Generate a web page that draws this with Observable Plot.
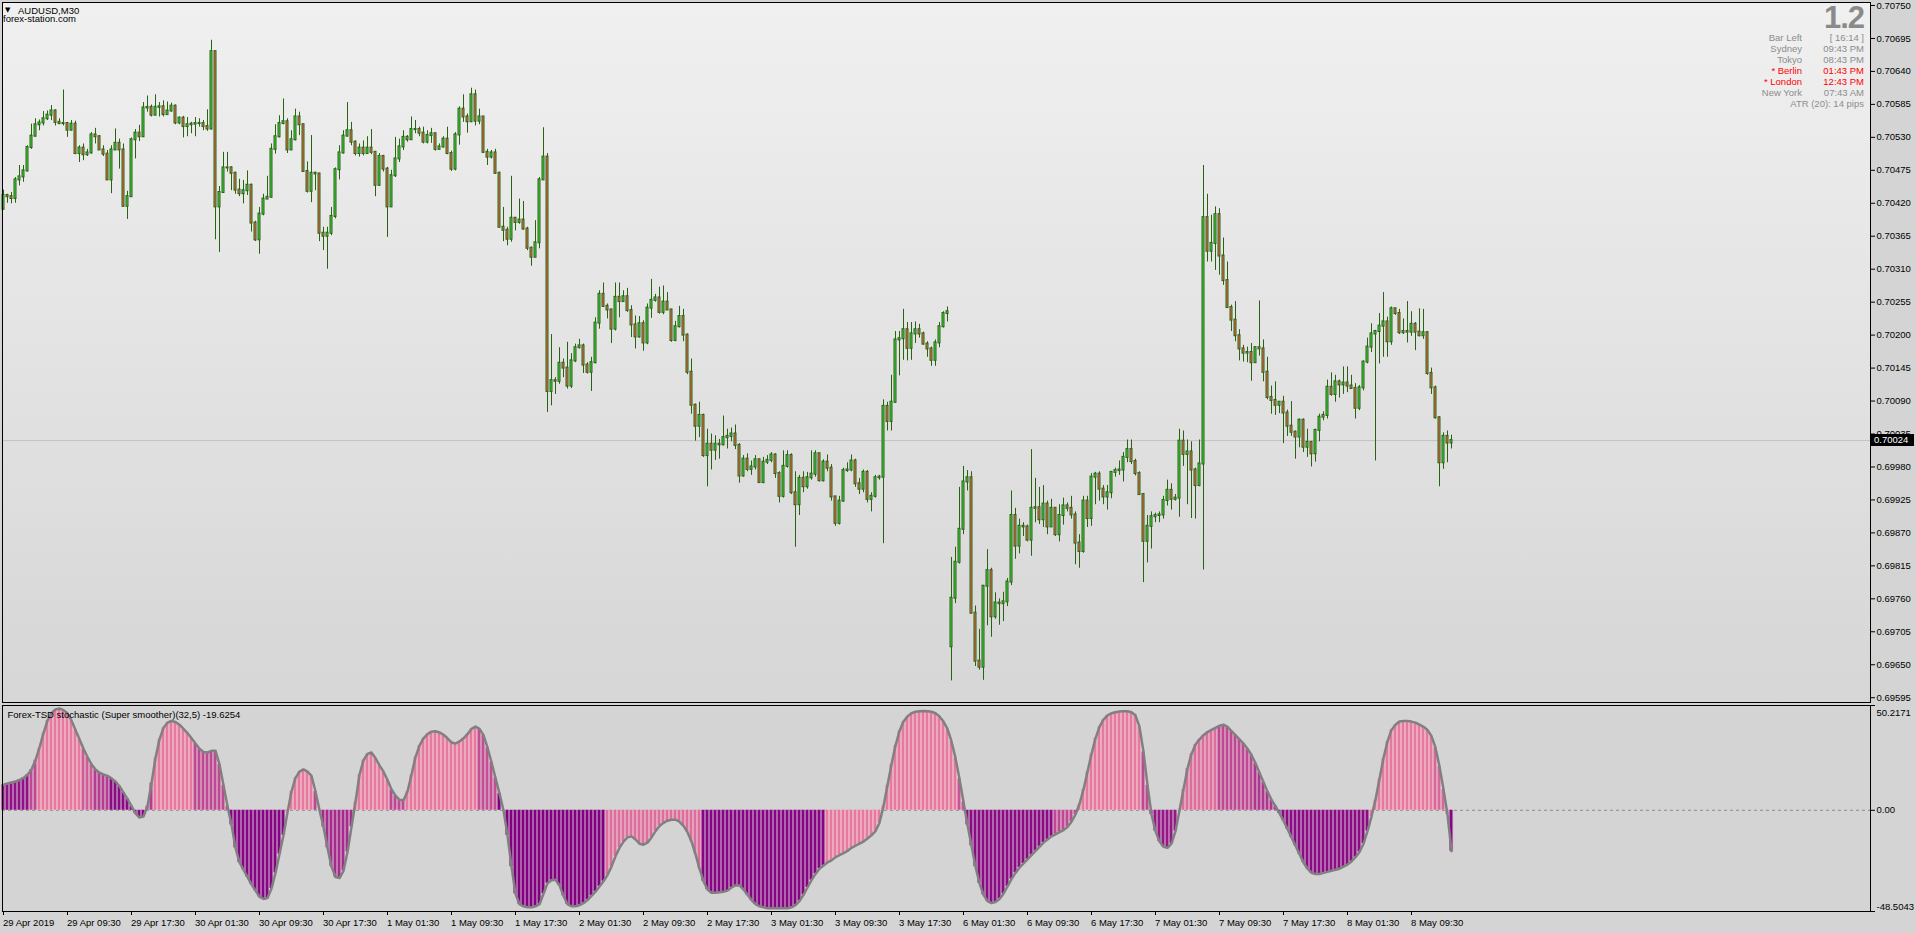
<!DOCTYPE html>
<html><head><meta charset="utf-8">
<script src="https://cdn.jsdelivr.net/npm/d3@7"></script>
<script src="https://cdn.jsdelivr.net/npm/@observablehq/plot@0.6"></script>
<style>
html,body{margin:0;padding:0;background:#d4d4d4;overflow:hidden}
#wrap{position:relative;width:1916px;height:933px;font-family:"Liberation Sans",Arial,sans-serif;font-size:9.5px;color:#000}
#bg{position:absolute;left:3px;top:3px;width:1867px;height:699px;background:linear-gradient(#f0f0f0,#d6d6d6)}
.abs{position:absolute;white-space:pre;line-height:12px}
svg{position:absolute;left:0}
</style></head><body><div id="wrap"><div id="bg"></div></div>
<script>
// ---- price data (in points, 1 point = 0.00001) ----
const gapOpenIdx = [0, 237];
const gapOpenVal = [70410, 69680];
const closes = [70433,70431,70428,70459,70464,70474,70513,70532,70551,70554,70561,70567,70574,70555,70553,70553,70542,70552,70503,70512,
70501,70504,70534,70531,70509,70502,70459,70509,70520,70509,70415,70431,70526,70537,70531,70579,70580,70567,70580,70581,
70568,70574,70582,70554,70562,70548,70551,70552,70553,70553,70548,70544,70673,70414,70438,70479,70479,70470,70442,70436,
70441,70450,70387,70359,70402,70427,70430,70510,70531,70553,70556,70509,70526,70564,70551,70473,70440,70470,70469,70370,
70365,70370,70398,70476,70504,70532,70541,70522,70503,70512,70503,70512,70505,70450,70498,70477,70414,70466,70494,70514,
70530,70526,70543,70543,70537,70522,70533,70536,70510,70514,70527,70503,70477,70534,70577,70564,70556,70601,70557,70564,
70505,70497,70504,70470,70380,70375,70360,70395,70388,70392,70377,70345,70330,70354,70459,70497,70106,70124,70123,70153,
70145,70115,70157,70179,70182,70150,70138,70154,70220,70268,70248,70242,70210,70263,70256,70264,70241,70217,70197,70219,
70187,70245,70258,70262,70238,70255,70242,70191,70214,70231,70200,70138,70083,70048,70066,69999,70018,70008,70018,70017,
70029,70031,70035,70016,69965,69993,69976,69980,69992,69954,69988,69991,70000,69969,69931,69981,69999,69937,69917,69961,
69947,69962,69968,70002,69957,69988,69978,69930,69886,69923,69974,69975,69990,69952,69943,69971,69926,69931,69962,69963,
70081,70056,70088,70192,70194,70209,70178,70202,70209,70202,70185,70177,70158,70187,70214,70236,70239,69761,69821,69876,
69955,69962,69736,69656,69646,69781,69807,69730,69753,69752,69755,69788,69899,69848,69881,69880,69858,69911,69912,69892,
69918,69880,69911,69867,69899,69915,69911,69900,69853,69839,69923,69894,69963,69968,69943,69930,69937,69971,69974,69975,
69996,70009,69989,69969,69934,69856,69881,69897,69899,69900,69924,69941,69926,69928,70023,70001,70005,69975,69949,69985,
70396,70340,70353,70401,70332,70291,70246,70225,70199,70177,70170,70171,70154,70179,70177,70138,70096,70091,70083,70088,
70070,70048,70038,70030,70058,70013,70021,70002,70041,70063,70066,70113,70101,70122,70117,70120,70115,70111,70078,70112,
70155,70180,70202,70206,70215,70222,70189,70244,70236,70204,70206,70205,70218,70205,70199,70204,70136,70112,70062,69987,
70031,70020,70024];
const highs = [70442,70435,70438,70463,70483,70483,70516,70552,70561,70559,70573,70574,70583,70576,70561,70609,70555,70558,70557,70516,
70519,70510,70538,70545,70533,70516,70508,70516,70544,70527,70519,70440,70529,70543,70550,70588,70599,70584,70601,70588,
70591,70589,70587,70584,70564,70565,70563,70555,70563,70561,70558,70576,70692,70673,70448,70505,70505,70481,70472,70460,
70458,70474,70452,70390,70413,70435,70465,70519,70551,70566,70594,70561,70541,70577,70572,70552,70489,70533,70472,70469,
70380,70380,70413,70479,70516,70541,70588,70555,70524,70519,70524,70531,70543,70505,70503,70500,70480,70475,70530,70527,
70541,70533,70564,70558,70547,70547,70541,70545,70536,70519,70531,70547,70507,70538,70581,70601,70569,70612,70609,70577,
70564,70510,70508,70510,70472,70413,70380,70465,70396,70427,70423,70380,70347,70391,70463,70546,70503,70201,70129,70179,
70160,70188,70169,70185,70193,70185,70154,70163,70229,70274,70287,70252,70243,70287,70287,70274,70278,70249,70232,70231,
70224,70252,70293,70268,70280,70282,70271,70243,70223,70248,70243,70202,70160,70085,70088,70068,70043,70035,70032,70026,
70065,70043,70045,70050,70019,69999,70002,69990,69999,69993,69996,69999,70004,70002,69972,70007,70007,70002,69972,69966,
69972,69971,70007,70007,70003,69992,70000,69984,69931,69931,69978,69987,70000,69993,69961,69975,69974,69937,69966,69966,
70092,70088,70133,70206,70206,70243,70221,70221,70222,70218,70205,70189,70180,70192,70221,70239,70247,69829,69846,69946,
69981,69974,69972,69748,69709,69782,69842,69811,69770,69760,69771,69794,69940,69911,69893,69887,69883,70009,69961,69946,
69949,69923,69926,69905,69917,69928,69920,69931,69905,69867,69931,69931,69969,69971,69972,69949,69949,69972,69978,69990,
70004,70025,70025,69993,69972,69908,69899,69905,69903,69905,69931,69958,69952,69934,70043,70040,70025,70022,69978,70025,
70483,70435,70400,70414,70411,70362,70322,70250,70256,70209,70183,70180,70186,70180,70257,70192,70163,70115,70122,70089,
70098,70075,70089,70040,70060,70060,70043,70022,70043,70068,70072,70125,70137,70133,70125,70147,70147,70133,70119,70116,
70157,70195,70219,70208,70236,70271,70230,70247,70244,70243,70227,70256,70239,70221,70244,70243,70206,70145,70115,70064,
70037,70040,70033];
const lows = [70409,70420,70419,70420,70449,70455,70472,70510,70530,70541,70549,70558,70558,70549,70551,70549,70530,70541,70501,70488,
70491,70498,70502,70519,70508,70498,70458,70436,70508,70477,70413,70393,70430,70494,70523,70530,70572,70564,70566,70564,
70564,70568,70572,70551,70551,70529,70531,70536,70531,70547,70541,70540,70542,70359,70338,70437,70472,70441,70435,70431,
70419,70433,70372,70356,70335,70399,70427,70430,70502,70529,70551,70503,70508,70524,70533,70472,70437,70421,70441,70356,
70341,70310,70366,70394,70459,70502,70531,70516,70499,70497,70499,70502,70501,70431,70449,70472,70363,70413,70463,70488,
70508,70522,70526,70536,70531,70519,70519,70520,70507,70509,70512,70501,70473,70474,70517,70555,70537,70555,70549,70551,
70503,70483,70494,70468,70379,70356,70349,70355,70374,70385,70375,70341,70315,70330,70344,70459,70071,70082,70101,70118,
70129,70110,70111,70154,70177,70136,70135,70106,70152,70210,70246,70227,70186,70207,70229,70255,70238,70196,70177,70195,
70173,70184,70228,70255,70235,70234,70241,70188,70189,70212,70189,70134,70068,70023,70029,69996,69947,69975,69991,69993,
70015,70010,70022,70009,69953,69963,69972,69966,69975,69953,69952,69984,69987,69961,69920,69928,69978,69934,69846,69899,
69937,69943,69958,69963,69955,69955,69972,69923,69881,69883,69921,69971,69972,69946,69934,69937,69920,69905,69928,69958,
69852,70040,70040,70086,70132,70158,70157,70158,70186,70195,70183,70163,70148,70148,70179,70212,70222,69623,69752,69818,
69867,69940,69735,69647,69641,69624,69715,69696,69726,69716,69722,69747,69782,69826,69835,69864,69855,69831,69887,69884,
69879,69867,69896,69864,69855,69883,69905,69893,69817,69811,69836,69879,69881,69917,69923,69917,69908,69927,69963,69966,
69955,69987,69984,69965,69933,69787,69820,69843,69887,69887,69893,69915,69908,69923,69896,69981,69917,69894,69893,69947,
69808,70322,70322,70308,70300,70283,70246,70206,70189,70157,70155,70154,70123,70154,70165,70122,70092,70068,70066,70069,
70019,70031,70031,69993,70012,70004,69996,69980,69988,70022,70057,70060,70098,70088,70095,70101,70104,70110,70060,70074,
70107,70152,70171,69990,70152,70163,70163,70183,70233,70201,70201,70187,70198,70174,70197,70193,70133,70101,70060,69947,
69976,69987,70010];
const lastPrice = 0.70024;
const priceTicks = [0.69595,0.69650,0.69705,0.69760,0.69815,0.69870,0.69925,0.69980,0.70035,0.70090,0.70145,0.70200,
0.70255,0.70310,0.70365,0.70420,0.70475,0.70530,0.70585,0.70640,0.70695,0.70750];

// ---- indicator data ----
const stoch = [12.3,12.8,13.3,13.8,14.5,15.5,17,19.5,24,30,
37,43,46.5,48.3,48.8,48,46.5,43,38.5,34,
29.5,25.5,22,19.5,18,17.2,16.5,15.3,13.8,11.5,
8.5,5.5,2,-1.5,-3.5,-3,2,13,25,34,
39.5,42,42.8,42.3,41,39,37,34.5,32,29.5,
28,27.7,28.5,28.5,22,12,2,-7,-18,-25,
-28.5,-32,-35.5,-38.5,-41.5,-42.5,-42,-37.5,-30,-21,
-12,-1,9,15.5,18.5,19.6,18.5,16.5,9,0,
-8,-18,-27,-32,-32.5,-29,-20,-8,4,17,
24,27,27.7,25,21.5,18.5,14.5,10,7,5,
4.8,9,17,25.5,31,34.5,36.5,37.7,37.9,37.3,
36.2,34.5,32.5,32,33,34.5,36.5,39,40.1,39,
36,30,23,15.5,8,0,-12,-27,-40,-45,
-46,-46.5,-46.5,-46,-45,-40,-35,-33.5,-33.3,-36,
-41,-45,-46,-46,-45.5,-44.5,-43,-41,-39,-36.5,
-34,-31,-27,-22,-18,-15,-13,-12.5,-14,-16,
-16.5,-15.5,-13,-10,-7.5,-6,-5,-4.5,-4.5,-5.5,
-7.5,-10.5,-15,-21,-28,-34,-38,-39.5,-39.5,-39.3,
-39,-38.5,-37,-36,-36,-38,-40.5,-43,-45,-46,
-46.5,-47,-47,-47,-47,-47,-47,-46.5,-45.5,-43.5,
-40.5,-37,-33.5,-30.5,-28,-26.5,-25,-24,-22.5,-21.5,
-20.5,-19.5,-18,-17,-16,-15,-13.5,-12,-10,-6,
2,12,22,31,38,42.5,45,46.5,47.2,47.5,
47.6,47.5,47.2,46.5,45,42.5,39,33,25,15,
4,-7,-17,-27,-35,-40.5,-43.5,-44.5,-44,-42.5,
-40,-36.5,-33,-30,-27.5,-25.5,-23.5,-21.5,-19.5,-17.5,
-15.5,-14,-12.5,-11.5,-10.5,-9.5,-8,-5.5,-2,3,
10,18.5,27,34.5,40,43.5,45.5,46.5,47,47.3,
47.5,47.5,47,45.5,40,28,12,-2,-10,-15,
-17.5,-18,-16,-10,0,10,20,27,31.5,34,
36,37.5,38.5,39.5,40.5,41,40,38,36,34,
32,29.5,26.5,22.5,18,13.5,9,5,2,-1.5,
-5,-9,-13,-17,-21,-25,-28,-30,-30.5,-30.5,
-30,-29.5,-29,-28.5,-28,-27,-26,-24.5,-22.5,-20,
-16,-10,-3,5,15,25,33,38.5,41,42.5,
42.8,42.8,42.5,42,41,40,38.5,35.5,30,21,
10,-2,-19.6254];
const colorBreakIdx = [0,7,9,20,23,27,36,38,48,57,71,78,80,88,97,101,119,124,151,175,206,239,241,263,269,285,287,294,304,313,319,342,358,362];
const colorBreakLvl = [0.15,0.6,1,0.75,0.5,0.1,0.5,1,0.6,0.05,1,0.6,0.35,1,0.6,1,0.65,0,0.9,0.05,1,0.7,0.1,0.6,1,0.6,0.2,0.9,0.6,0.45,0.1,1,0.85,0.05];
const subMax = 50.2171, subMin = -48.5043;
const subTitle = "Forex-TSD stochastic (Super smoother)(32,5) -19.6254";

// ---- time axis ----
const timeLabels = ["29 Apr 2019","29 Apr 09:30","29 Apr 17:30","30 Apr 01:30","30 Apr 09:30","30 Apr 17:30","1 May 01:30","1 May 09:30","1 May 17:30","2 May 01:30","2 May 09:30","2 May 17:30","3 May 01:30","3 May 09:30","3 May 17:30","6 May 01:30","6 May 09:30","6 May 17:30","7 May 01:30","7 May 09:30","7 May 17:30","8 May 01:30","8 May 09:30"];
const timeTickIdx = [0,16,32,48,64,80,96,112,128,144,160,176,192,208,224,240,256,272,288,304,320,336,352];

// ---- info panel ----
const infoLabels = ["Bar Left","Sydney","Tokyo","* Berlin","* London","New York",""];
const infoValues = ["[ 16:14 ]","09:43 PM","08:43 PM","01:43 PM","12:43 PM","07:43 AM","ATR (20): 14 pips"];
const infoHot = [false,false,false,true,true,false,false];
const spreadText = "1.2";

// ---------------- build ----------------
const wrap = document.getElementById("wrap");
const W = 1916;
const xDomain = [-0.25, 466.75];
const FONT = "Liberation Sans, Arial, sans-serif";
const dark = "#2a6214", bull = "#3ed23e", bear = "#ee6a48";

const bars = closes.map((c, i) => {
  const g = gapOpenIdx.indexOf(i);
  const o = g >= 0 ? gapOpenVal[g] : closes[i - 1];
  return {i, open: o / 1e5, close: c / 1e5,
    high: Math.max(highs[i], o, c) / 1e5, low: Math.min(lows[i], o, c) / 1e5};
});

const main = Plot.plot({
  width: W, height: 704,
  marginLeft: 2, marginRight: 46, marginTop: 2, marginBottom: 2,
  style: {background: "transparent", fontFamily: FONT, fontSize: "9.5px", color: "#000", overflow: "visible"},
  x: {domain: xDomain, axis: null},
  y: {domain: [0.69587, 0.70755], axis: "right", ticks: priceTicks, tickFormat: d => d.toFixed(5), tickSize: 4, tickPadding: 2, label: null},
  marks: [
    Plot.ruleY([lastPrice], {stroke: "#c2c2c2"}),
    Plot.ruleX(bars, {x: "i", y1: "low", y2: "high", stroke: dark, strokeWidth: 1}),
    Plot.rect(bars, {x1: d => d.i - 0.25, x2: d => d.i + 0.25, y1: "open", y2: "close",
      fill: d => d.close >= d.open ? bull : bear, stroke: dark, strokeWidth: 1, insetTop: -0.5, insetBottom: -0.5}),
    Plot.frame({stroke: "#000"})
  ]
});
main.style.top = "0px";
wrap.appendChild(main);

// current price label on axis
const yMain = main.scale("y");
const py = yMain.apply(lastPrice);
const pl = document.createElement("div");
pl.className = "abs";
pl.style.cssText = `left:1871px;top:${py - 6}px;width:43px;height:12px;background:#000;color:#fff;padding-left:3px;box-sizing:border-box;line-height:12px;position:absolute;font-size:9.5px`;
pl.textContent = lastPrice.toFixed(5);
wrap.appendChild(pl);

// indicator panel
const lvlAt = i => { let l = colorBreakLvl[0]; for (let k = 0; k < colorBreakIdx.length; k++) if (i >= colorBreakIdx[k]) l = colorBreakLvl[k]; return l; };
const cInterp = d3.interpolateRgb("#800080", "#e67a9e");
const ind = stoch.map((v, i) => { const c = cInterp(lvlAt(i)); return {i, v, c, g: d3.interpolateRgb(c, "#ffffff")(0.72)}; });

const sub = Plot.plot({
  width: W, height: 229,
  marginLeft: 2, marginRight: 46, marginTop: 1, marginBottom: 22,
  style: {background: "transparent", fontFamily: FONT, fontSize: "9.5px", color: "#000", overflow: "visible"},
  x: {domain: xDomain, axis: "bottom", ticks: timeTickIdx, tickFormat: () => "", tickSize: 4, label: null},
  y: {domain: [subMin, subMax], axis: "right", ticks: [subMax, 0, subMin], tickFormat: () => "", tickSize: 4, label: null},
  marks: [
    Plot.ruleY([0], {stroke: "#8c8c8c", strokeDasharray: "3,3"}),
    Plot.rect(ind, {x1: d => d.i - 0.375, x2: d => d.i + 0.625, y1: 0, y2: "v", fill: "g"}),
    Plot.rect(ind, {x1: d => d.i - 0.375, x2: d => d.i + 0.375, y1: 0, y2: "v", fill: "c"}),
    Plot.line(ind, {x: "i", y: "v", stroke: "#808080", strokeWidth: 2.5}),
    Plot.text(timeTickIdx, {x: d => d, frameAnchor: "bottom", dy: 11, dx: -0.5, lineAnchor: "middle", textAnchor: "start", text: (d, k) => timeLabels[k]}),
    Plot.text([subMax], {y: d => d, frameAnchor: "right", dx: 6, dy: 7, lineAnchor: "middle", textAnchor: "start", text: d => d.toFixed(4)}),
    Plot.text([0], {y: d => d, frameAnchor: "right", dx: 6, lineAnchor: "middle", textAnchor: "start", text: d => d.toFixed(2)}),
    Plot.text([subMin], {y: d => d, frameAnchor: "right", dx: 6, dy: -5, lineAnchor: "middle", textAnchor: "start", text: d => d.toFixed(4)}),
    Plot.text([subTitle], {frameAnchor: "top-left", dx: 5, dy: 9, lineAnchor: "middle", textAnchor: "start", text: d => d}),
    Plot.frame({stroke: "#000"})
  ]
});
sub.style.top = "704px";
wrap.appendChild(sub);

// header texts
function addText(txt, css) { const d = document.createElement("div"); d.className = "abs"; d.style.cssText += css; d.textContent = txt; wrap.appendChild(d); return d; }
addText("\u25BC", "left:5px;top:5px;font-family:'DejaVu Sans';font-size:7px;line-height:10px;");
addText("AUDUSD,M30", "left:18px;top:5px;");
addText("forex-station.com", "left:3px;top:13px;");

// info panel
addText(spreadText, "right:52px;top:1px;font-size:31px;font-weight:bold;line-height:34px;color:#8a8a8a;letter-spacing:-1px;");
infoLabels.forEach((t, k) => {
  const top = 32 + k * 11;
  const col = infoHot[k] ? "#ff0000" : "#8c8c8c";
  if (t) addText(t, `right:114px;top:${top}px;color:${col};`);
  addText(infoValues[k], `right:52px;top:${top}px;color:${col};`);
});
</script>
</body></html>
